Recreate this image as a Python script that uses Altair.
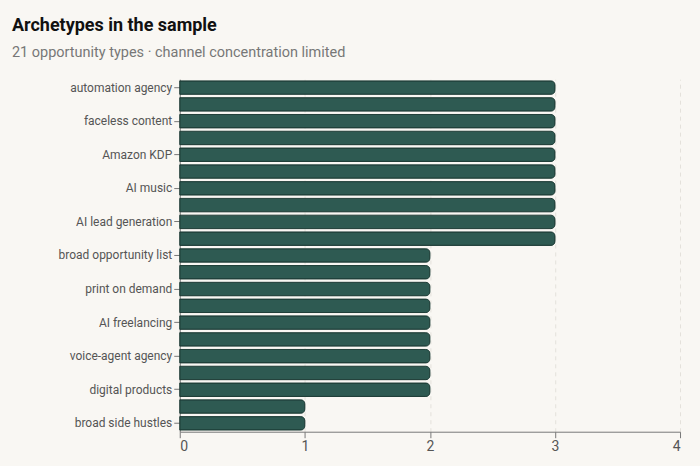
import altair as alt
import pandas as pd

# Opportunity archetypes, in display order (top to bottom)
archetypes = [
    "automation agency", "AI agents", "faceless content", "YouTube automation",
    "Amazon KDP", "newsletter", "AI music", "affiliate marketing",
    "AI lead generation", "micro-SaaS", "broad opportunity list", "dropshipping",
    "print on demand", "online courses", "AI freelancing", "prompt selling",
    "voice-agent agency", "UGC creator", "digital products", "Etsy printables",
    "broad side hustles",
]
counts = [3, 3, 3, 3, 3, 3, 3, 3, 3, 3,
          2, 2, 2, 2, 2, 2, 2, 2, 2,
          1, 1]
# Every other category gets a visible axis label
shown_labels = archetypes[::2]
x_ticks = [0, 1, 2, 3, 4]

df = pd.DataFrame({"archetype": archetypes, "count": counts})

FONT = "Roboto"

chart = (
    alt.Chart(df)
    .mark_bar(
        color="#2e5a52",
        stroke="#1d3c36",
        strokeWidth=1,
        cornerRadiusEnd=4,
    )
    .encode(
        x=alt.X(
            "count:Q",
            scale=alt.Scale(domain=[0, 4], nice=False),
            axis=alt.Axis(
                title=None,
                values=x_ticks,
                format="d",
                grid=True,
                gridDash=[4, 4],
                gridColor="#e4e1db",
                gridWidth=1,
                domainColor="#777777",
                tickColor="#777777",
                labelColor="#555555",
                labelFontSize=14,
                labelFont=FONT,
                tickSize=6,
                labelPadding=2,
            ),
        ),
        y=alt.Y(
            "archetype:N",
            sort=archetypes,
            scale=alt.Scale(paddingInner=0.2, paddingOuter=0.1),
            axis=alt.Axis(
                title=None,
                values=shown_labels,
                grid=False,
                domainColor="#777777",
                tickColor="#777777",
                labelColor="#555555",
                labelFontSize=12,
                labelFont=FONT,
                tickSize=6,
                labelPadding=2,
                minExtent=168,
            ),
        ),
    )
    .properties(
        width=501,
        height=353,
        background="#f9f7f3",
        padding={"left": 12, "right": 19, "top": 16, "bottom": 12},
        title=alt.TitleParams(
            text="Archetypes in the sample",
            subtitle="21 opportunity types · channel concentration limited",
            anchor="start",
            frame="group",
            dx=-168,
            font=FONT,
            fontSize=18,
            fontWeight="bold",
            color="#111111",
            subtitleFont=FONT,
            subtitleFontSize=14.5,
            subtitleColor="#777777",
            subtitlePadding=11,
            offset=20,
        ),
    )
    .configure_view(stroke=None)
)

chart.save("out.html", embed_options={"renderer": "svg", "actions": False})
